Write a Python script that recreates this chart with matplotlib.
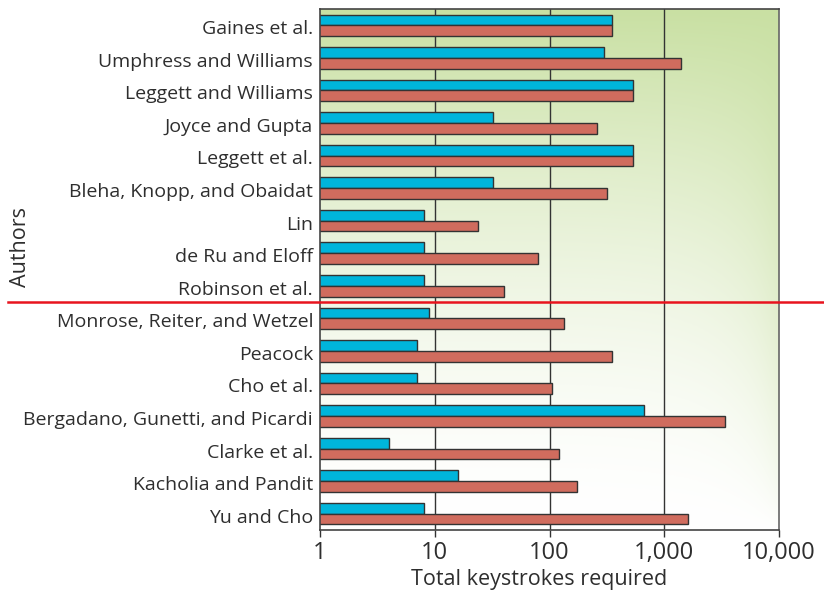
import numpy as np
import matplotlib

matplotlib.use("Agg")
import matplotlib.pyplot as plt
from matplotlib.lines import Line2D
from matplotlib.ticker import FixedLocator, NullLocator

authors = [
    "Gaines et al.",
    "Umphress and Williams",
    "Leggett and Williams",
    "Joyce and Gupta",
    "Leggett et al.",
    "Bleha, Knopp, and Obaidat",
    "Lin",
    "de Ru and Eloff",
    "Robinson et al.",
    "Monrose, Reiter, and Wetzel",
    "Peacock",
    "Cho et al.",
    "Bergadano, Gunetti, and Picardi",
    "Clarke et al.",
    "Kacholia and Pandit",
    "Yu and Cho",
]
cyan_values = [350, 300, 530, 32, 530, 32, 8, 8, 8, 9, 7, 7, 670, 4, 16, 8]
red_values = [350, 1400, 530, 260, 530, 320, 24, 80, 40, 135, 350, 105, 3400, 120, 175, 1600]
x_ticks = [1, 10, 100, 1000, 10000]
x_tick_labels = ["1", "10", "100", "1,000", "10,000"]
split_after = "Robinson et al."

FONT = ["Open Sans", "DejaVu Sans"]
plt.rcParams["font.family"] = FONT
TEXT = "#2e2e2e"

fig = plt.figure(figsize=(8.24, 5.96), dpi=100)
ax = fig.add_axes([320 / 824, 1 - 530 / 596, 459 / 824, 521 / 596])
ax.set_xscale("log")
ax.set_xlim(1, 10000)
ax.set_ylim(15.5, -0.5)

# background gradient: green along the top, fading to white lower down
# (fades quicker on the left than on the right)
ny, nx = 200, 200
yy, xx = np.mgrid[0:1:ny * 1j, 0:1:nx * 1j]  # yy = 0 at top row
t = (1 - yy) ** (1.6 - 0.9 * xx)
top = np.array([201, 224, 163]) / 255
bottom = np.array([255, 255, 255]) / 255
grad = bottom + (top - bottom) * t[..., None]
ax.imshow(grad, extent=[1, 10000, 15.5, -0.5], origin="upper", aspect="auto",
          zorder=0, interpolation="bilinear")

pos = np.arange(len(authors))
h = 0.33
ax.barh(pos - h / 2, cyan_values, height=h, color="#00b5db",
        edgecolor="#333333", linewidth=1, zorder=3)
ax.barh(pos + h / 2, red_values, height=h, color="#d06c5e",
        edgecolor="#333333", linewidth=1, zorder=3)
ax.set_xlim(1, 10000)
ax.set_ylim(15.5, -0.5)

for v in x_ticks[1:-1]:
    ax.axvline(v, color="#333333", linewidth=1, zorder=2)

ax.xaxis.set_major_locator(FixedLocator(x_ticks))
ax.xaxis.set_minor_locator(NullLocator())
ax.set_xticklabels(x_tick_labels, fontsize=17, color=TEXT)
ax.tick_params(axis="x", direction="out", length=5, width=1, color="#333333", pad=3)
ax.set_yticks(pos + 0.06)
ax.set_yticklabels(authors, fontsize=14, color=TEXT)
ax.tick_params(axis="y", length=0, pad=5)

for side in ax.spines.values():
    side.set_color("#444444")
    side.set_linewidth(1.2)
    side.set_zorder(4)
ax.spines["right"].set_color("#666666")

fig.text(539 / 824, 1 - 580 / 596, "Total keystrokes required", ha="center",
         va="center", fontsize=15.5, color=TEXT)
fig.text(20 / 824, 1 - 247 / 596, "Authors", ha="center", va="center",
         rotation=90, fontsize=15.5, color=TEXT)

# red divider between the two groups, across the whole figure
idx = authors.index(split_after)
y_data = idx + 0.5
y_fig = fig.transFigure.inverted().transform(ax.transData.transform((1, y_data)))[1]
fig.add_artist(Line2D([8 / 824, 1], [y_fig, y_fig], color="#e8141e", linewidth=1.8,
                      transform=fig.transFigure, zorder=10))

fig.savefig("out.png", dpi=100)
